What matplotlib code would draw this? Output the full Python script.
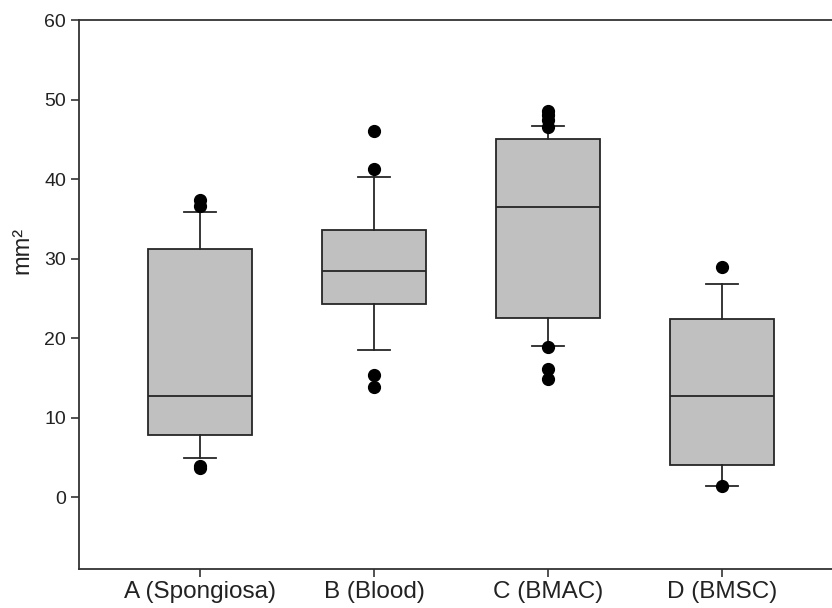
import numpy as np
import matplotlib
matplotlib.use("Agg")
import matplotlib.pyplot as plt

# groups and box statistics (mm²)
groups = ['A (Spongiosa)', 'B (Blood)', 'C (BMAC)', 'D (BMSC)']
q1 = [7.85, 24.34, 22.49, 3.99]
med = [12.76, 28.45, 36.5, 12.72]
q3 = [31.27, 33.65, 45.06, 22.45]
whislo = [4.91, 18.46, 18.97, 1.39]
whishi = [35.87, 40.28, 46.7, 26.77]
fliers = [
    [37.4, 36.6, 3.9, 3.7],
    [46.07, 41.33, 15.32, 13.85],
    [48.6, 48.0, 47.4, 46.6, 18.88, 16.16, 14.9],
    [28.95, 1.35],
]

plt.rcParams['font.family'] = ['Liberation Sans', 'DejaVu Sans']

stats = []
for i in range(len(groups)):
    stats.append({'label': groups[i], 'q1': q1[i], 'med': med[i], 'q3': q3[i],
                  'whislo': whislo[i], 'whishi': whishi[i], 'fliers': fliers[i]})

fig = plt.figure(figsize=(8.32, 6.08), dpi=100)
ax = fig.add_axes([0.0953, 0.0646, 0.9047, 0.9024])

edge = '#262626'
ax.bxp(stats, positions=[1, 2, 3, 4], widths=0.6, capwidths=0.18, patch_artist=True,
       boxprops=dict(facecolor='#c0c0c0', edgecolor=edge, linewidth=1.3),
       medianprops=dict(color=edge, linewidth=1.3),
       whiskerprops=dict(color=edge, linewidth=1.3),
       capprops=dict(color=edge, linewidth=1.3),
       flierprops=dict(marker='o', markerfacecolor='black', markeredgecolor='black', markersize=8.5))

ax.set_xlim(0.306, 4.632)
ax.set_ylim(-9, 60)
ax.set_yticks(np.arange(0, 61, 10))
ax.set_ylabel('mm²', fontsize=17, color='#222222')
ax.yaxis.set_label_coords(-0.061, 0.58)
ax.tick_params(axis='both', colors='#222222', length=6, width=1.1, direction='out')
ax.tick_params(axis='y', labelsize=14)
ax.tick_params(axis='x', labelsize=17.5, pad=3)
for s in ['left', 'bottom', 'top']:
    ax.spines[s].set_color('#333333')
    ax.spines[s].set_linewidth(1.3)
ax.spines['right'].set_visible(False)

fig.savefig('out.png', dpi=100)
